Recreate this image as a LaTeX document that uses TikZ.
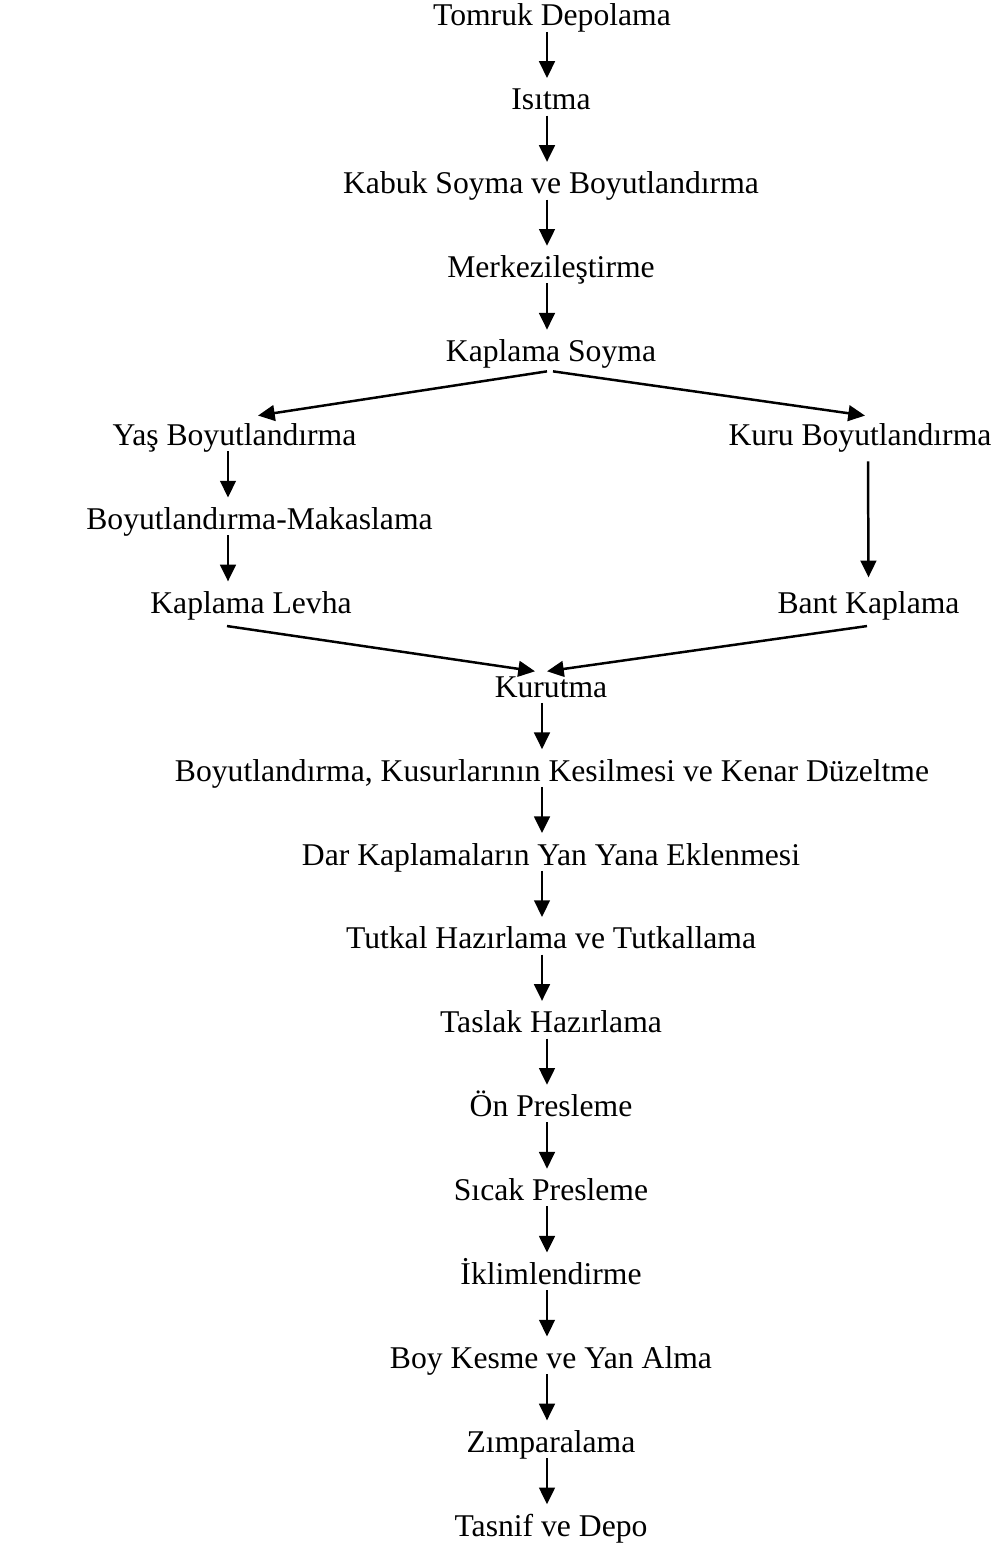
\documentclass[tikz,border=0pt]{standalone}
\usepackage{fontspec}
\setmainfont{Liberation Serif}
\usetikzlibrary{arrows.meta}
\tikzset{
  adim/.style={inner sep=0pt, text height=12pt, text depth=2pt, anchor=base, font=\fontsize{12.1}{14}\selectfont},
  ok/.style={line width=0.95pt, -{Triangle[width=6pt,length=6.4pt]}}
}
\begin{document}
\begin{tikzpicture}[x=0.3823pt,y=-0.3823pt]
\def\ara{83.9}
\def\orta{551}
\useasboundingbox (0,0) rectangle (999,1550);

\coordinate (eksen) at (547,0);
\coordinate (eksenb) at (542,0);
\coordinate (solkol) at (228,0);

\node[adim] (tomruk) at (552,26) {Tomruk Depolama};
\node[adim] (isitma) at (\orta,26+\ara) {Isıtma};
\node[adim] (kabuk) at (\orta,26+2*\ara) {Kabuk Soyma ve Boyutlandırma};
\node[adim] (merkez) at (\orta,26+3*\ara) {Merkezileştirme};
\node[adim] (soyma) at (\orta,26+4*\ara) {Kaplama Soyma};

\node[adim] (yas) at (234.5,26+5*\ara) {Yaş Boyutlandırma};
\node[adim] (kuru) at (860,26+5*\ara) {Kuru Boyutlandırma};
\node[adim] (makas) at (259.5,26+6*\ara) {Boyutlandırma-Makaslama};
\node[adim] (levha) at (251,26+7*\ara) {Kaplama Levha};
\node[adim] (bant) at (868.5,26+7*\ara) {Bant Kaplama};

\node[adim] (kurutma) at (\orta,26+8*\ara) {Kurutma};
\node[adim] (kusur) at (552,26+9*\ara) {Boyutlandırma, Kusurlarının Kesilmesi ve Kenar Düzeltme};
\node[adim] (dar) at (\orta,26+10*\ara) {Dar Kaplamaların Yan Yana Eklenmesi};
\node[adim] (tutkal) at (\orta,26+11*\ara) {Tutkal Hazırlama ve Tutkallama};
\node[adim] (taslak) at (\orta,26+12*\ara) {Taslak Hazırlama};
\node[adim] (on) at (\orta,26+13*\ara) {Ön Presleme};
\node[adim] (sicak) at (\orta,26+14*\ara) {Sıcak Presleme};
\node[adim] (iklim) at (\orta,26+15*\ara) {İklimlendirme};
\node[adim] (boy) at (\orta,26+16*\ara) {Boy Kesme ve Yan Alma};
\node[adim] (zimpara) at (\orta,26+17*\ara) {Zımparalama};
\node[adim] (tasnif) at (\orta,26+18*\ara) {Tasnif ve Depo};

% ana hat
\draw[ok] (tomruk.south -| eksen) -- (isitma.north -| eksen);
\draw[ok] (isitma.south -| eksen) -- (kabuk.north -| eksen);
\draw[ok] (kabuk.south -| eksen) -- (merkez.north -| eksen);
\draw[ok] (merkez.south -| eksen) -- (soyma.north -| eksen);

% iki kol
\draw[ok] ([shift={(-4,4)}]soyma.south) -- ([shift={(23.5,2)}]yas.north);
\draw[ok] ([shift={(2,4)}]soyma.south) -- ([shift={(5,2)}]kuru.north);
\draw[ok] (yas.south -| solkol) -- (makas.north -| solkol);
\draw[ok] (makas.south -| solkol) -- (levha.north -| solkol);
\draw[ok] ([shift={(8,10)}]kuru.south) -- ([shift={(0,-4)}]bant.north);
\draw[ok] ([shift={(-24,7)}]levha.south) -- ([shift={(-16,6)}]kurutma.north);
\draw[ok] ([shift={(-1.5,7)}]bant.south) -- ([shift={(-4,6)}]kurutma.north);

\draw[ok] (kurutma.south -| eksenb) -- (kusur.north -| eksenb);
\draw[ok] (kusur.south -| eksenb) -- (dar.north -| eksenb);
\draw[ok] (dar.south -| eksenb) -- (tutkal.north -| eksenb);
\draw[ok] (tutkal.south -| eksenb) -- (taslak.north -| eksenb);
\draw[ok] (taslak.south -| eksen) -- (on.north -| eksen);
\draw[ok] (on.south -| eksen) -- (sicak.north -| eksen);
\draw[ok] (sicak.south -| eksen) -- (iklim.north -| eksen);
\draw[ok] (iklim.south -| eksen) -- (boy.north -| eksen);
\draw[ok] (boy.south -| eksen) -- (zimpara.north -| eksen);
\draw[ok] (zimpara.south -| eksen) -- (tasnif.north -| eksen);

\end{tikzpicture}
\end{document}
